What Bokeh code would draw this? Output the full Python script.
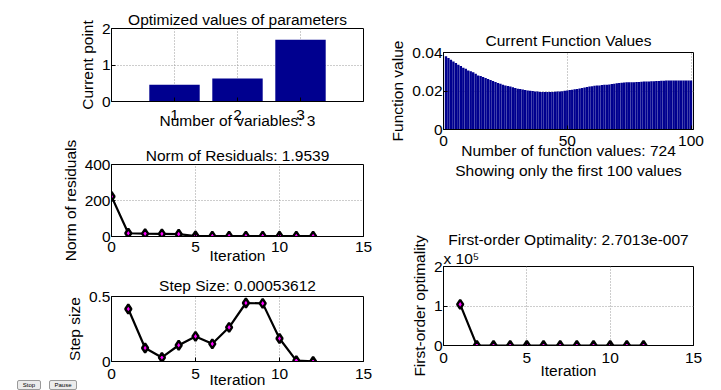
from bokeh.plotting import figure
from bokeh.layouts import row, column
from bokeh.models import FixedTicker, Range1d, Title, Div
from bokeh.embed import file_html
from bokeh.resources import INLINE

# ---------------- data ----------------
var_idx = [1, 2, 3]
current_point = [0.46, 0.63, 1.69]

fval_idx = list(range(1, 101))
fvals = [
    0.0381, 0.0371, 0.0362, 0.0353, 0.0345, 0.0336, 0.0330, 0.0321, 0.0316, 0.0307,
    0.0302, 0.0297, 0.0290, 0.0281, 0.0278, 0.0273, 0.0268, 0.0262, 0.0257, 0.0252,
    0.0247, 0.0242, 0.0238, 0.0233, 0.0229, 0.0226, 0.0224, 0.0219, 0.0216, 0.0212,
    0.0211, 0.0208, 0.0205, 0.0203, 0.0201, 0.0200, 0.0198, 0.0197, 0.0195, 0.0195,
    0.0195, 0.0195, 0.0195, 0.0195, 0.0196, 0.0197, 0.0198, 0.0199, 0.0201, 0.0203,
    0.0205, 0.0207, 0.0209, 0.0211, 0.0213, 0.0215, 0.0218, 0.0221, 0.0223, 0.0225,
    0.0227, 0.0228, 0.0229, 0.0231, 0.0232, 0.0233, 0.0234, 0.0236, 0.0238, 0.0240,
    0.0241, 0.0243, 0.0244, 0.0245, 0.0245, 0.0246, 0.0246, 0.0247, 0.0247, 0.0248,
    0.0249, 0.0250, 0.0250, 0.0251, 0.0251, 0.0252, 0.0252, 0.0253, 0.0253, 0.0254,
    0.0254, 0.0254, 0.0254, 0.0254, 0.0254, 0.0254, 0.0254, 0.0255, 0.0255, 0.0255,
]

res_iter = list(range(0, 13))
residual_norm = [222, 18, 16, 15, 13, 2.6, 2.3, 2.1, 2.0, 1.98, 1.96, 1.955, 1.9539]

step_iter = list(range(1, 13))
step_size = [0.404, 0.104, 0.031, 0.125, 0.193, 0.136, 0.263, 0.450, 0.447, 0.177, 0.007, 0.00053612]

opt_iter = list(range(1, 13))
first_order_opt = [104000, 300, 20, 5, 1, 0.5, 0.1, 0.05, 0.01, 0.005, 0.001, 2.7013e-7]

iter_ticks = [0, 5, 10, 15]
button_labels = ["Stop", "Pause"]

# ---------------- style ----------------
FONT = "Liberation Sans"
FS = "15.5px"
BAR = "#00008F"
GRID = "#9a9a9a"


def style_title(t, standoff, align="center", offset=0):
    t.text_font = FONT
    t.text_font_size = FS
    t.text_font_style = "normal"
    t.text_color = "black"
    t.align = align
    t.offset = offset
    t.standoff = standoff


def make_fig(title, w, h, left, right, top, bottom, xr, yr, xticks, yticks,
             xlabel="", ylabel="", tick_standoff=7, xlab_standoff=0,
             title_standoff=1, overrides=None):
    p = figure(width=w, height=h, x_range=Range1d(*xr), y_range=Range1d(*yr),
               min_border_left=left, min_border_right=right,
               min_border_top=top, min_border_bottom=bottom,
               output_backend="svg", toolbar_location=None, tools="", title=title)
    if title is not None:
        style_title(p.title, title_standoff)
    p.outline_line_color = "black"
    p.outline_line_alpha = 1.0
    p.outline_line_width = 1
    for ax in (p.xaxis[0], p.yaxis[0]):
        ax.major_label_text_font = FONT
        ax.major_label_text_font_size = FS
        ax.major_label_text_color = "black"
        ax.axis_label_text_font = FONT
        ax.axis_label_text_font_size = FS
        ax.axis_label_text_font_style = "normal"
        ax.axis_label_text_color = "black"
        ax.major_tick_in = 4
        ax.major_tick_out = 0
        ax.minor_tick_in = 0
        ax.minor_tick_out = 0
        ax.axis_line_color = "black"
        ax.major_tick_line_color = "black"
    p.xaxis[0].ticker = FixedTicker(ticks=xticks)
    p.yaxis[0].ticker = FixedTicker(ticks=yticks)
    p.xaxis[0].major_label_standoff = tick_standoff
    p.yaxis[0].major_label_standoff = 1
    p.xaxis[0].axis_label = xlabel
    p.yaxis[0].axis_label = ylabel
    p.xaxis[0].axis_label_standoff = xlab_standoff
    p.yaxis[0].axis_label_standoff = 3
    if overrides:
        p.yaxis[0].major_label_overrides = overrides
    for g in (p.xgrid[0], p.ygrid[0]):
        g.grid_line_color = GRID
        g.grid_line_dash = "1 2"
        g.grid_line_width = 1
    return p


def add_line(p, x, y):
    p.line(x, y, line_color="black", line_width=2.2)
    p.scatter(x, y, marker="diamond", size=9, line_color="black",
              line_width=2.4, fill_color="#ff00ff")


# left column (page x 0..383)
f1 = make_fig("Optimized values of parameters", 383, 140, 111, 20, 28, 39,
              (0, 4), (0, 2), [1, 2, 3], [0, 1, 2],
              xlabel="Number of variables: 3", ylabel="Current point",
              tick_standoff=8, xlab_standoff=-11)
f1.vbar(x=var_idx, top=current_point, width=0.8, fill_color=BAR, line_color=None)

f2 = make_fig("Norm of Residuals: 1.9539", 383, 128, 111, 19, 24, 32,
              (0, 15), (0, 400), iter_ticks, [0, 200, 400],
              xlabel="Iteration", ylabel="Norm of residuals",
              tick_standoff=5, xlab_standoff=-8)
add_line(f2, res_iter, residual_norm)

f3 = make_fig("Step Size: 0.00053612", 383, 122, 111, 20, 28, 21,
              (0, 15), (0, 0.5), iter_ticks, [0, 0.5],
              xlabel="Iteration", ylabel="Step size",
              tick_standoff=7, xlab_standoff=-11, title_standoff=5,
              overrides={0: "0", 0.5: "0.5"})
add_line(f3, step_iter, step_size)

# GUI buttons (absolutely positioned, out of the layout flow)
btn_css = ("position:absolute;top:0;height:10px;box-sizing:border-box;"
           "border:1px solid #9a9a9a;border-radius:2px;background:#ececec;"
           "font-family:'Liberation Sans';font-size:6px;line-height:8px;"
           "text-align:center;color:#000;")
btn_html = "".join(
    '<span style="%sleft:%dpx;width:%dpx;">%s</span>' % (btn_css, lx, bw, txt)
    for txt, lx, bw in zip(button_labels, (0, 32), (24, 28))
)
buttons = Div(text=btn_html, width=62, height=10,
              styles={"position": "absolute", "left": "12px", "top": "375px"})

# right column (page x 383..716)
f4 = make_fig("Current Function Values", 333, 200, 60, 20, 52, 71,
              (0, 101), (0, 0.04), [0, 50, 100], [0, 0.02, 0.04],
              xlabel="Number of function values: 724\nShowing only the first 100 values",
              ylabel="Function value", tick_standoff=6, xlab_standoff=-7,
              title_standoff=7,
              overrides={0: "0", 0.02: "0.02", 0.04: "0.04"})
f4.vbar(x=fval_idx, top=fvals, width=0.96, fill_color=BAR, line_color=None)

f5 = make_fig(None, 333, 190, 58, 23, 66, 45,
              (0, 15), (0, 200000), iter_ticks, [0, 100000, 200000],
              xlabel="Iteration", ylabel="First-order optimality",
              tick_standoff=7, xlab_standoff=-4,
              overrides={0: "0", 100000: "1", 200000: "2"})
add_line(f5, opt_iter, first_order_opt)
exp_title = Title(text="x 10\u2075")
style_title(exp_title, 0, align="left", offset=0)
f5.add_layout(exp_title, "above")
main5 = Title(text="First-order Optimality: 2.7013e-007")
style_title(main5, 0)
f5.add_layout(main5, "above")

layout = row(column(f1, f2, f3, buttons), column(f4, f5))

with open("out.html", "w") as fh:
    fh.write(file_html(layout, INLINE))
